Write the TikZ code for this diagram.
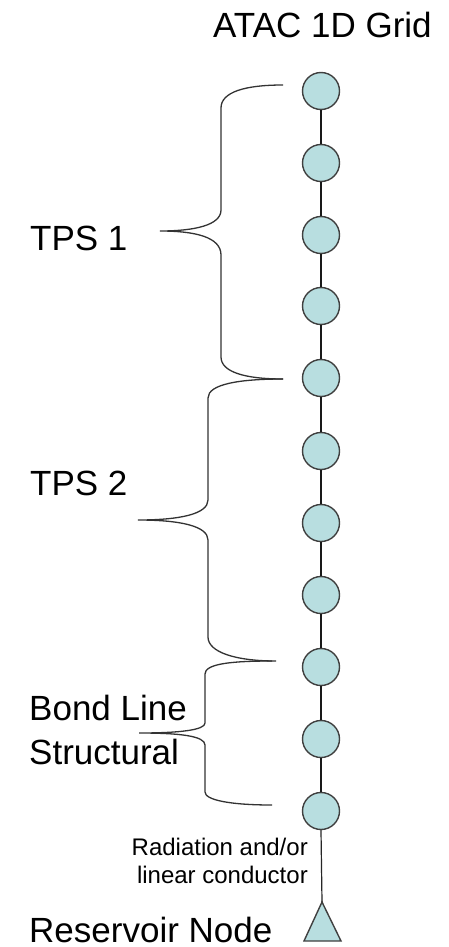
\documentclass[tikz,border=0pt]{standalone}
\usepackage{fontspec}
\setmainfont{Liberation Sans}
\begin{document}
\begin{tikzpicture}[x=1pt,y=1pt,
  gridnode/.style={circle,draw=black!75,line width=1.4pt,fill=gridfill,minimum size=37pt,inner sep=0pt},
  link/.style={line width=1.4pt,black!90},
  bracepath/.style={line width=1.3pt,black!80},
  biglabel/.style={anchor=base west,inner sep=0pt,font=\fontsize{35}{42}\selectfont},
  smalllabel/.style={anchor=base east,inner sep=0pt,font=\fontsize{24}{28}\selectfont}]
\definecolor{gridfill}{RGB}{184,222,224}
\useasboundingbox[fill=white] (0,0) rectangle (448,-947);
% grid nodes
\foreach \i/\y in {1/91,2/163,3/235,4/306,5/378,6/451,7/523,8/595,9/667,10/739,11/811}{
  \node[gridnode] (n\i) at (321,-\y) {};
}
\foreach \i [evaluate=\i as \j using int(\i+1)] in {1,...,10}{
  \draw[link] (n\i) -- (n\j);
}
% reservoir node
\coordinate (resv) at (322,-902);
\draw[line width=1.4pt,draw=black!75,fill=gridfill,line join=miter] (resv) -- (341,-941) -- (304,-941) -- cycle;
\draw[line width=1.2pt,black!85] (n11.south) -- (resv);
% braces
\draw[bracepath] (283,-85) .. controls (245,-85) and (221,-92) .. (221,-108) -- (221,-210)
  .. controls (221,-225) and (195,-231) .. (160,-231)
  .. controls (195,-231) and (221,-237) .. (221,-255) -- (221,-357)
  .. controls (221,-372) and (245,-379) .. (283,-379);
\draw[bracepath] (283,-379) .. controls (240,-379) and (208,-384) .. (208,-398) -- (208,-500)
  .. controls (208,-514) and (180,-520) .. (138,-520)
  .. controls (180,-520) and (208,-526) .. (208,-540) -- (208,-637)
  .. controls (208,-652) and (235,-661) .. (276,-661);
\draw[bracepath] (272,-661) .. controls (230,-661) and (205,-664) .. (205,-674) -- (205,-723)
  .. controls (205,-730) and (180,-733) .. (139,-733)
  .. controls (180,-733) and (205,-736) .. (205,-745) -- (205,-792)
  .. controls (205,-800) and (230,-805) .. (272,-805);
% labels
\node[biglabel] (title) at (213,-38) {ATAC 1D Grid};
\node[biglabel] (tps1) at (30,-250) {TPS 1};
\node[biglabel] (tps2) at (30,-495) {TPS 2};
\node[biglabel] (bond) at (29,-720) {Bond Line};
\node[biglabel] (struct) at (29,-764) {Structural};
\node[biglabel] (resvlabel) at (29,-942) {Reservoir Node};
\node[smalllabel] (rad1) at (308,-855) {Radiation and/or};
\node[smalllabel] (rad2) at (308,-883) {linear conductor};
\end{tikzpicture}
\end{document}
